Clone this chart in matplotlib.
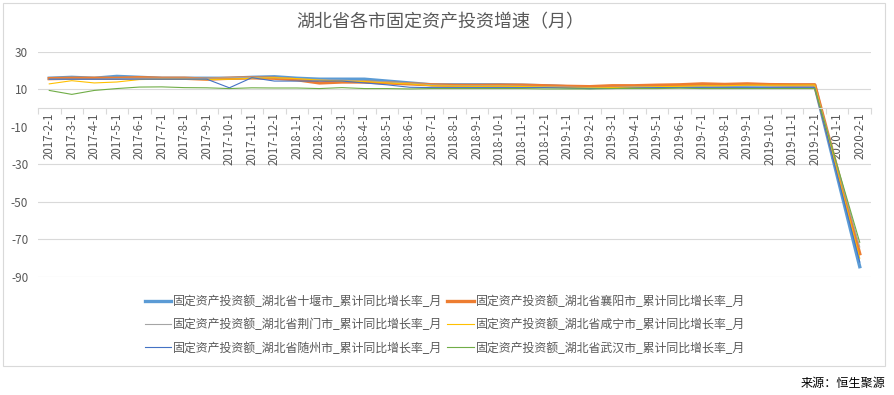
import matplotlib
matplotlib.use('Agg')
import matplotlib.pyplot as plt
from matplotlib.patches import Rectangle
import numpy as np

plt.rcParams['font.family'] = ['Noto Sans CJK SC', 'DejaVu Sans']

categories = [
    '2017-2-1', '2017-3-1', '2017-4-1', '2017-5-1', '2017-6-1', '2017-7-1', '2017-8-1',
    '2017-9-1', '2017-10-1', '2017-11-1', '2017-12-1',
    '2018-1-1', '2018-2-1', '2018-3-1', '2018-4-1', '2018-5-1', '2018-6-1', '2018-7-1',
    '2018-8-1', '2018-9-1', '2018-10-1', '2018-11-1', '2018-12-1',
    '2019-1-1', '2019-2-1', '2019-3-1', '2019-4-1', '2019-5-1', '2019-6-1', '2019-7-1',
    '2019-8-1', '2019-9-1', '2019-10-1', '2019-11-1', '2019-12-1',
    '2020-1-1', '2020-2-1',
]

shiyan = [16, 16.5, 16, 17, 16.5, 16, 16, 16, 16, 16.5, 16.8,
          16, 15.5, 15.5, 15.5, 14.5, 13.5, 12.5, 12.5, 12.5, 12.5, 12.3, 12,
          11.5, 11, 11.5, 11.5, 12, 12, 12.3, 12.2, 12.3, 12.4, 12.3, 12.3,
          None, -84.5]
xiangyang = [15.8, 16, 16, 16, 16.3, 16, 16, 15.5, 16, 16.2, 16,
             15.2, 13.5, 14, 14, 13.5, 13, 12.5, 12.2, 12.2, 12.3, 12.3, 12,
             11.7, 11.5, 12, 12, 12.3, 12.5, 13, 12.7, 13, 12.6, 12.5, 12.5,
             None, -77.6]
jingmen = [15.5, 15.5, 15.5, 15.8, 16, 16, 16, 16, 16.3, 16.5, 16.3,
           15.8, 15.3, 15, 14.5, 14, 13.3, 12.5, 12, 12, 12, 11.8, 11.5,
           11.3, 11, 11.2, 11.5, 11.5, 11.5, 11.5, 11.8, 12, 12, 12, 12,
           None, -74]
xianning = [13, 14.7, 13.5, 14, 15.3, 15.5, 15.5, 15.3, 15.5, 16, 16.3,
            15.8, 15, 14.5, 14.3, 13.5, 13, 12, 11.8, 11.7, 11.8, 11.6, 11.3,
            11, 10.8, 11, 11.2, 11.5, 11.7, 12, 12, 12.3, 12.3, 12.3, 12.4,
            None, -80]
suizhou = [15.5, 15.5, 15.5, 15.5, 15.5, 15.5, 15.5, 15.5, 10.9, 16.3, 14.5,
           14.5, 14.5, 14.5, 13.5, 12.5, 11.2, 11, 11, 11, 11, 11, 11,
           10.8, 10.5, 10.5, 10.8, 11, 11, 11, 11, 11, 11, 11, 11,
           None, -82]
wuhan = [9.5, 7.4, 9.5, 10.5, 11.3, 11.4, 11, 10.9, 10.5, 10.9, 10.8,
         10.8, 10.5, 11, 10.5, 10.5, 10.3, 10.5, 10.5, 10.5, 10.5, 10.5, 10.3,
         10.3, 10.3, 10.5, 10.5, 10.5, 10.7, 10.5, 10.5, 10.5, 10.5, 10.5, 10.5,
         None, -71.5]

series_names = [
    '固定资产投资额_湖北省十堰市_累计同比增长率_月',
    '固定资产投资额_湖北省襄阳市_累计同比增长率_月',
    '固定资产投资额_湖北省荆门市_累计同比增长率_月',
    '固定资产投资额_湖北省咸宁市_累计同比增长率_月',
    '固定资产投资额_湖北省随州市_累计同比增长率_月',
    '固定资产投资额_湖北省武汉市_累计同比增长率_月',
]
series_values = [shiyan, xiangyang, jingmen, xianning, suizhou, wuhan]
colors = ['#5B9BD5', '#ED7D31', '#A5A5A5', '#FFC000', '#4472C4', '#70AD47']
widths = [2.4, 2.4, 0.8, 0.8, 0.8, 0.8]

y_ticks = [30, 10, -10, -30, -50, -70, -90]

W, H = 894, 395
fig = plt.figure(figsize=(W / 100, H / 100), dpi=100)

# outer chart border
fig.patches.append(Rectangle((3 / W, 1 - 366 / H), (885 - 3) / W, (366 - 3) / H,
                             transform=fig.transFigure, fill=False,
                             edgecolor='#D9D9D9', linewidth=0.8))

ax = fig.add_axes([38 / W, 1 - 277 / H, (871 - 38) / W, (277 - 52) / H])
ax.set_xlim(-0.5, len(categories) - 0.5)
ax.set_ylim(-90, 30)

for yv in y_ticks:
    if yv == -10:
        continue
    ax.axhline(yv, color='#D9D9D9', linewidth=0.8, zorder=0)

x = np.arange(len(categories))
handles = []
for name, vals, c, lw in zip(series_names, series_values, colors, widths):
    xs = [xi for xi, v in zip(x, vals) if v is not None]
    ys = [v for v in vals if v is not None]
    ln, = ax.plot(xs, ys, color=c, linewidth=lw, label=name, zorder=2,
                  solid_joinstyle='round')
    handles.append(ln)

for s in ['top', 'right', 'left']:
    ax.spines[s].set_visible(False)
ax.spines['bottom'].set_position(('data', 0))
ax.spines['bottom'].set_color('#D9D9D9')
ax.spines['bottom'].set_linewidth(0.8)

ax.set_xticks(x)
ax.set_xticklabels(categories, rotation=90, fontsize=8.3, color='#595959')
ax.set_xticks(np.arange(-0.5, len(categories), 1), minor=True)
ax.tick_params(axis='x', which='major', length=0, pad=3)
ax.tick_params(axis='x', which='minor', length=4, color='#D9D9D9', width=0.8)

ax.set_yticks(y_ticks)
ax.set_yticklabels([str(v) for v in y_ticks], fontsize=8.5, color='#595959')
ax.tick_params(axis='y', length=0, pad=7)

fig.text(440 / W, 1 - 22 / H, '湖北省各市固定资产投资增速（月）', ha='center', va='center',
         fontsize=13, color='#595959')

order = [0, 2, 4, 1, 3, 5]
fig.legend([handles[i] for i in order], [series_names[i] for i in order],
           loc='center', bbox_to_anchor=(445 / W, 1 - 325 / H), ncol=2,
           frameon=False, fontsize=8.6, labelcolor='#595959',
           handlelength=2.2, handletextpad=0.2, columnspacing=0.4,
           labelspacing=0.85)

fig.text(885 / W, 1 - 383 / H, '来源：恒生聚源', ha='right', va='center',
         fontsize=8.7, color='black')

fig.savefig('out.png', dpi=100)
